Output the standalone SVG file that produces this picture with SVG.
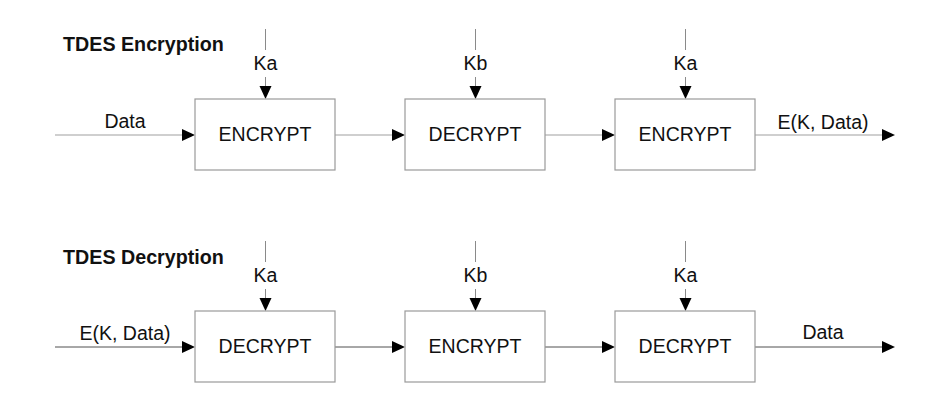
<svg xmlns="http://www.w3.org/2000/svg" width="945" height="412" viewBox="0 0 945 412">
<defs>
<style>
.box{fill:#fff;stroke:#9a9a9a;stroke-width:1.2}
.c1{stroke:#a0a0a0;stroke-width:1.2;fill:none}
.c2{stroke:#505050;stroke-width:1;fill:none}
.k{stroke:#8a8a8a;stroke-width:1;fill:none}
.ah{fill:#000}
.t{font-family:"Liberation Sans",Arial,sans-serif;font-size:19.5px;fill:#111;text-anchor:middle}
.title{font-family:"Liberation Sans",Arial,sans-serif;font-size:19.7px;font-weight:bold;fill:#111}
</style>
</defs>
<rect width="945" height="412" fill="#fff"/>
<text class="title" x="63" y="51">TDES Encryption</text>
<text class="title" x="63" y="264">TDES Decryption</text>
<g id="connectors">
<line class="c1" x1="55" y1="135" x2="183" y2="135"/>
<path class="ah" d="M195,135 L182,129 L182,141 Z"/>
<line class="c1" x1="335" y1="135" x2="393" y2="135"/>
<path class="ah" d="M405,135 L392,129 L392,141 Z"/>
<line class="c1" x1="545" y1="135" x2="603" y2="135"/>
<path class="ah" d="M615,135 L602,129 L602,141 Z"/>
<line class="c1" x1="755" y1="135" x2="883" y2="135"/>
<path class="ah" d="M895,135 L882,129 L882,141 Z"/>
<line class="k" x1="265.5" y1="29" x2="265.5" y2="50"/>
<line class="k" x1="265.5" y1="77" x2="265.5" y2="88"/>
<path class="ah" d="M265.5,99 L259.5,86 L271.5,86 Z"/>
<line class="k" x1="475.5" y1="29" x2="475.5" y2="50"/>
<line class="k" x1="475.5" y1="77" x2="475.5" y2="88"/>
<path class="ah" d="M475.5,99 L469.5,86 L481.5,86 Z"/>
<line class="k" x1="685.5" y1="29" x2="685.5" y2="50"/>
<line class="k" x1="685.5" y1="77" x2="685.5" y2="88"/>
<path class="ah" d="M685.5,99 L679.5,86 L691.5,86 Z"/>
<line class="c2" x1="55" y1="347" x2="183" y2="347"/>
<path class="ah" d="M195,347 L182,341 L182,353 Z"/>
<line class="c2" x1="335" y1="347" x2="393" y2="347"/>
<path class="ah" d="M405,347 L392,341 L392,353 Z"/>
<line class="c2" x1="545" y1="347" x2="603" y2="347"/>
<path class="ah" d="M615,347 L602,341 L602,353 Z"/>
<line class="c2" x1="755" y1="347" x2="883" y2="347"/>
<path class="ah" d="M895,347 L882,341 L882,353 Z"/>
<line class="k" x1="265.5" y1="241" x2="265.5" y2="262"/>
<line class="k" x1="265.5" y1="289" x2="265.5" y2="300"/>
<path class="ah" d="M265.5,311 L259.5,298 L271.5,298 Z"/>
<line class="k" x1="475.5" y1="241" x2="475.5" y2="262"/>
<line class="k" x1="475.5" y1="289" x2="475.5" y2="300"/>
<path class="ah" d="M475.5,311 L469.5,298 L481.5,298 Z"/>
<line class="k" x1="685.5" y1="241" x2="685.5" y2="262"/>
<line class="k" x1="685.5" y1="289" x2="685.5" y2="300"/>
<path class="ah" d="M685.5,311 L679.5,298 L691.5,298 Z"/>
<text class="t" x="125" y="128">Data</text>
<text class="t" x="823" y="129">E(K, Data)</text>
<text class="t" x="265.5" y="70">Ka</text>
<text class="t" x="475.5" y="70">Kb</text>
<text class="t" x="685.5" y="70">Ka</text>
<text class="t" x="125" y="340">E(K, Data)</text>
<text class="t" x="823" y="339">Data</text>
<text class="t" x="265.5" y="282">Ka</text>
<text class="t" x="475.5" y="282">Kb</text>
<text class="t" x="685.5" y="282">Ka</text>
</g>
<g id="enc1"><rect class="box" x="195" y="99" width="140" height="71"/><text class="t" x="265" y="141">ENCRYPT</text></g>
<g id="dec1"><rect class="box" x="405" y="99" width="140" height="71"/><text class="t" x="475" y="141">DECRYPT</text></g>
<g id="enc2"><rect class="box" x="615" y="99" width="140" height="71"/><text class="t" x="685" y="141">ENCRYPT</text></g>
<g id="dec2"><rect class="box" x="195" y="311" width="140" height="71"/><text class="t" x="265" y="353">DECRYPT</text></g>
<g id="enc3"><rect class="box" x="405" y="311" width="140" height="71"/><text class="t" x="475" y="353">ENCRYPT</text></g>
<g id="dec3"><rect class="box" x="615" y="311" width="140" height="71"/><text class="t" x="685" y="353">DECRYPT</text></g>
</svg>
